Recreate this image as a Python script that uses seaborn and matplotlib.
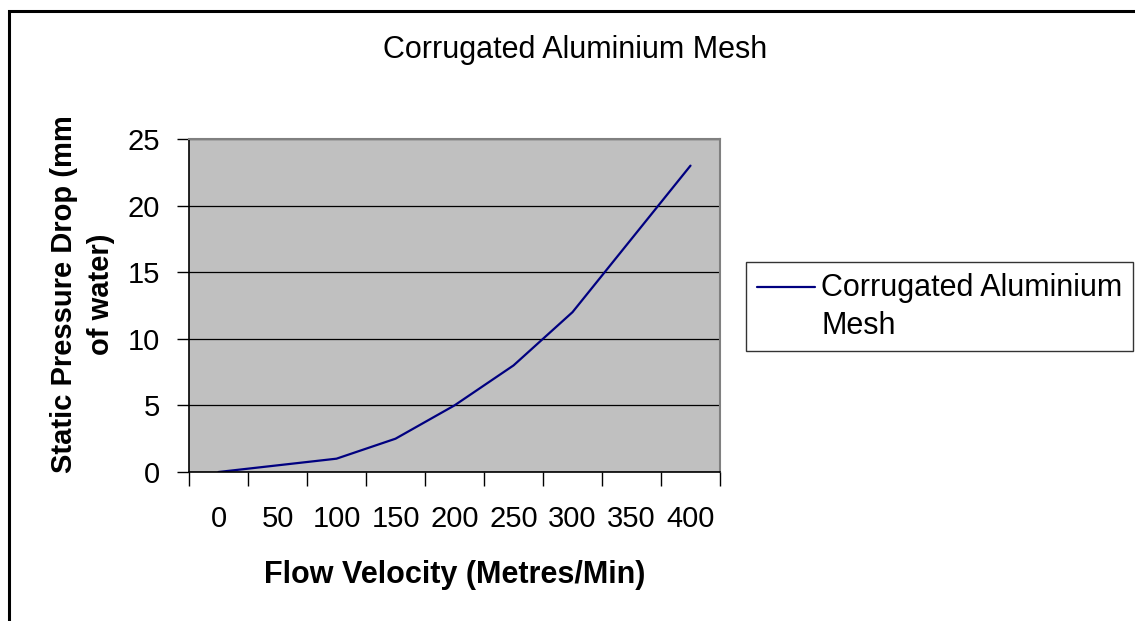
import numpy as np
import pandas as pd
import seaborn as sns
import matplotlib.pyplot as plt
from matplotlib.patches import Rectangle

# values
velocity = [0, 50, 100, 150, 200, 250, 300, 350, 400]
pressure_drop = [0, 0.5, 1, 2.5, 5, 8, 12, 17.5, 23]
y_ticks = [0, 5, 10, 15, 20, 25]
series_name = "Corrugated Aluminium\nMesh"

df = pd.DataFrame({"velocity": velocity, "drop": pressure_drop})

sns.set_style("white")
plt.rcParams["font.family"] = ["Liberation Sans", "DejaVu Sans"]
plt.rcParams["text.color"] = "black"
plt.rcParams["axes.labelcolor"] = "black"
plt.rcParams["xtick.color"] = "black"
plt.rcParams["ytick.color"] = "black"

W, H = 1135, 621
fig = plt.figure(figsize=(W / 100, H / 100), dpi=100)
ax = fig.add_axes([189 / W, 1 - 472 / H, 531 / W, 333 / H])
ax.set_facecolor("#C0C0C0")

sns.lineplot(data=df, x="velocity", y="drop", color="#000080", linewidth=1.6,
             label=series_name, ax=ax)

# category style x axis: ticks between categories, labels at centres
step = velocity[1] - velocity[0]
ax.set_xlim(velocity[0] - step / 2, velocity[-1] + step / 2)
ax.set_xticks([v - step / 2 for v in velocity] + [velocity[-1] + step / 2])
ax.set_xticklabels([])
ax.set_xticks(velocity, minor=True)
ax.set_xticklabels([str(v) for v in velocity], minor=True, fontsize=21)
ax.tick_params(axis="x", which="major", direction="out", length=10, width=1, color="black", bottom=True)
ax.tick_params(axis="x", which="minor", length=0, pad=24)

ax.set_ylim(0, 25)
ax.set_yticks(y_ticks)
ax.set_yticklabels([str(v) for v in y_ticks], fontsize=21)
ax.tick_params(axis="y", direction="out", length=9, width=1, color="black", left=True, pad=12)

ax.grid(axis="y", color="black", linewidth=0.9)
ax.grid(axis="x", visible=False)
ax.set_axisbelow(True)

for side in ["left", "bottom"]:
    ax.spines[side].set_color("black")
    ax.spines[side].set_linewidth(1.2)
for side in ["top", "right"]:
    ax.spines[side].set_color("#808080")
    ax.spines[side].set_linewidth(1.5)

ax.set_xlabel("Flow Velocity (Metres/Min)", fontsize=22, fontweight="bold", labelpad=19)
ax.set_ylabel("Static Pressure Drop (mm\nof water)", fontsize=21, fontweight="bold", linespacing=1.4)
ax.yaxis.set_label_coords(-0.139, 0.535)

fig.text(575 / W, 1 - 50 / H, "Corrugated Aluminium Mesh", fontsize=22, ha="center", va="center")

leg = ax.legend(loc="upper left", bbox_to_anchor=(746 / W, 1 - 262 / H), bbox_transform=fig.transFigure,
                fontsize=22, frameon=True, fancybox=False, borderaxespad=0, handlelength=1.9,
                handletextpad=0.22, borderpad=0.35)
leg.get_frame().set_edgecolor("black")
leg.get_frame().set_linewidth(1)
plt.setp(leg.get_texts(), linespacing=1.35)
# Excel puts the legend key level with the first text line
key = leg.get_lines()[0]
key.set_ydata(np.asarray(key.get_ydata()) + 15)

# outer chart frame (right and bottom edges fall outside the picture)
fig.patches.append(Rectangle((8.5 / W, -0.1), 1.2, 1.1 - 11 / H, transform=fig.transFigure,
                             fill=False, edgecolor="black", linewidth=2.2))

fig.savefig("out.png", dpi=100)
